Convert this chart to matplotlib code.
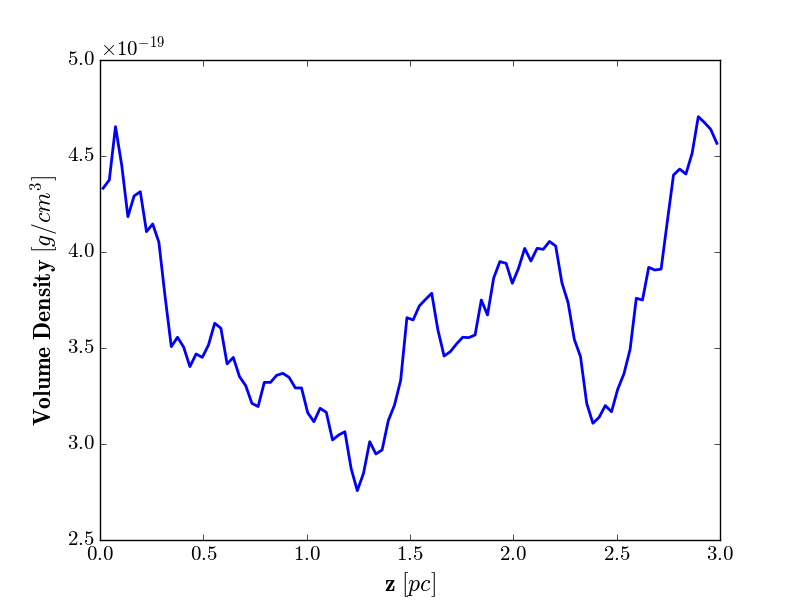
import numpy as np
import matplotlib
matplotlib.use('Agg')
import matplotlib.pyplot as plt

plt.style.use('classic')
plt.rcParams['font.family'] = 'serif'
plt.rcParams['font.serif'] = ['cmr10']
plt.rcParams['mathtext.fontset'] = 'cm'
plt.rcParams['axes.formatter.use_mathtext'] = True
plt.rcParams['axes.unicode_minus'] = False

# volume density profile along z (units of 1e-19 g/cm^3)
density = [4.332, 4.375, 4.653, 4.453, 4.184, 4.292, 4.314, 4.106, 4.146, 4.050,
           3.767, 3.507, 3.556, 3.504, 3.403, 3.469, 3.451, 3.516, 3.629, 3.603,
           3.417, 3.451, 3.351, 3.304, 3.212, 3.195, 3.321, 3.321, 3.358, 3.368,
           3.347, 3.292, 3.292, 3.163, 3.116, 3.186, 3.165, 3.021, 3.047, 3.064,
           2.873, 2.757, 2.847, 3.012, 2.948, 2.969, 3.122, 3.203, 3.333, 3.658,
           3.646, 3.719, 3.753, 3.785, 3.594, 3.458, 3.481, 3.521, 3.556, 3.554,
           3.568, 3.750, 3.672, 3.865, 3.950, 3.941, 3.837, 3.915, 4.019, 3.953,
           4.019, 4.014, 4.055, 4.031, 3.840, 3.736, 3.545, 3.455, 3.212, 3.108,
           3.139, 3.200, 3.168, 3.285, 3.365, 3.493, 3.759, 3.750, 3.920, 3.906,
           3.911, 4.158, 4.401, 4.432, 4.406, 4.514, 4.705, 4.674, 4.639, 4.566]

# cell centres along z [pc]
z = np.linspace(0.015, 2.985, len(density))
rho = np.array(density) * 1e-19

fig = plt.figure(figsize=(8, 6), dpi=100, facecolor='white')
ax = fig.add_subplot(111)
ax.plot(z, rho, color='b', linewidth=2)

ax.set_xlim(0, 3)
ax.set_ylim(2.5e-19, 5e-19)
ax.set_xticks(np.arange(0, 3.01, 0.5))
ax.set_yticks(np.arange(2.5e-19, 5.01e-19, 0.5e-19))
ax.tick_params(labelsize=15)
ax.yaxis.get_offset_text().set_fontsize(15)

ax.set_xlabel(r'$\mathbf{z}\ [pc]$', fontsize=17)
ax.set_ylabel(r'$\mathbf{Volume\ Density}\ [g/cm^3]$', fontsize=17)

fig.savefig('out.png', dpi=100, facecolor='white')
